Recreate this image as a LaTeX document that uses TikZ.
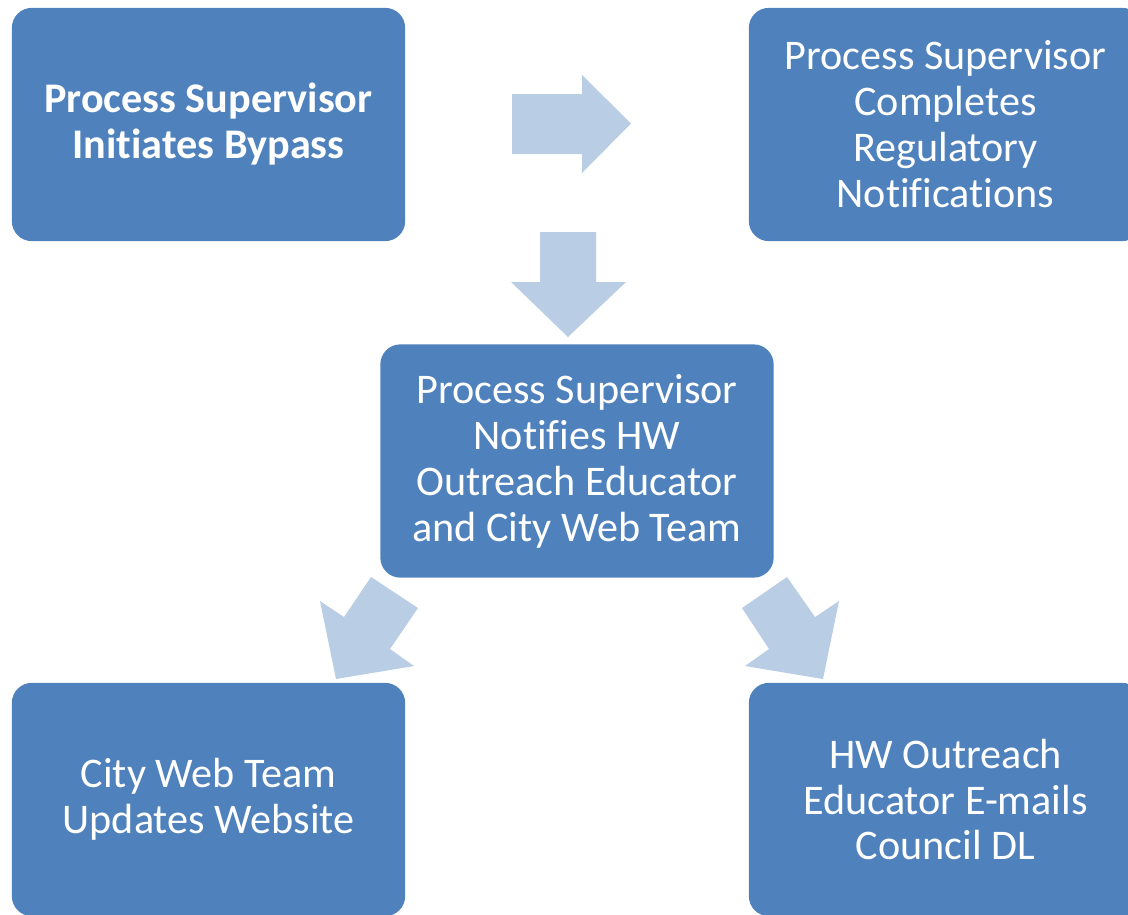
\documentclass[tikz,border=0pt]{standalone}
\usepackage{fontspec}
\setmainfont{Carlito}[Ligatures=NoCommon]
\usepackage{tikz}

\definecolor{boxblue}{HTML}{4F81BD}
\definecolor{arrowblue}{HTML}{B9CDE5}

\begin{document}
\begin{tikzpicture}[x=0.025cm,y=-0.025cm,
    procbox/.style={fill=boxblue, rounded corners=0.5cm, text=white, align=center,
      minimum width=9.83cm, minimum height=5.83cm, inner sep=0pt,
      font=\fontsize{30}{32.7}\selectfont},
    flowarrow/.style={fill=arrowblue}]
  \clip (0,0) rectangle (1128,914);

  \node[procbox, font=\fontsize{30}{32.7}\selectfont\bfseries] (start) at (208.5,124.5)
    {Process Supervisor\\Initiates Bypass};
  \node[procbox] (regs) at (945.5,124.5)
    {Process Supervisor\\Completes\\Regulatory\\Notifications};
  \node[procbox] (notify) at (577,461)
    {Process Supervisor\\Notifies HW\\Outreach Educator\\and City Web Team};
  \node[procbox] (web) at (208.5,799.5) {City Web Team\\Updates Website};
  \node[procbox] (email) at (945.5,799.5)
    {HW Outreach\\Educator E-mails\\Council DL};

  % block arrows
  \fill[flowarrow] (512,94) -- (582,94) -- (582,75) -- (631,123.5)
    -- (582,173) -- (582,154) -- (512,154) -- cycle;
  \fill[flowarrow] (540,232) -- (596,232) -- (596,282) -- (626,282)
    -- (568,337) -- (511,282) -- (540,282) -- cycle;
  \fill[flowarrow] (371,577) -- (418,608) -- (390,649) -- (414,666)
    -- (336,679) -- (320,601) -- (344,617) -- cycle;
  \fill[flowarrow] (787,577) -- (742,608) -- (769,649) -- (745,666)
    -- (823,679) -- (839,601) -- (815,617) -- cycle;
\end{tikzpicture}
\end{document}
